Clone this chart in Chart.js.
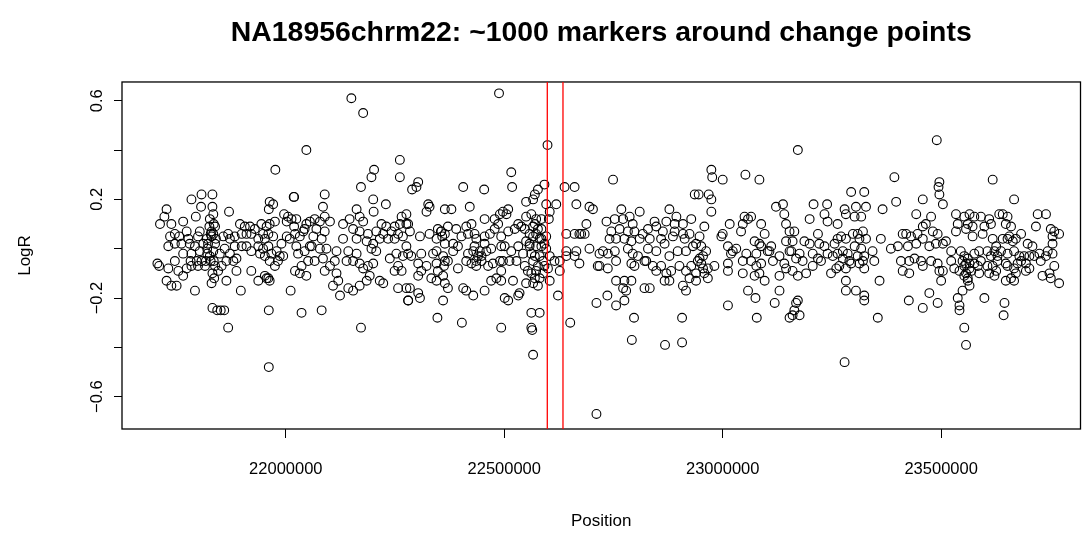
<!DOCTYPE html>
<html>
<head>
<meta charset="utf-8">
<script src="https://cdn.jsdelivr.net/npm/chart.js@4.4.1/dist/chart.umd.min.js"></script>
<style>
html,body{margin:0;padding:0;background:#ffffff;}
#wrap{width:1086px;height:543px;position:relative;}
</style>
</head>
<body>
<div id="wrap"><canvas id="c" width="1086" height="543"></canvas></div>
<script>
const chartTitle = 'NA18956chrm22: ~1000 markers around change points';
const xAxisTitle = 'Position';
const yAxisTitle = 'LogR';
const xTickValues = [22000000, 22500000, 23000000, 23500000];
const xTickLabels = ['22000000', '22500000', '23000000', '23500000'];
const yTickValues = [-0.6, -0.4, -0.2, 0, 0.2, 0.4, 0.6];
const yTickLabels = ['\u22120.6', '', '\u22120.2', '', '0.2', '', '0.6'];
const changePoints = [22598500, 22634400];
const xRange = [21625000, 23819000];
const yRange = [-0.731, 0.676];

// marker positions in kb (x1000 = bp)
const positionKb = [
21807,21832,21784,21806,21832,21727,21722,21765,21794,21834,
21826,21835,21712,21738,21746,21773,21803,21830,21838,21735,
21756,21777,21799,21819,21830,21840,21780,21792,21811,21822,
21838,21731,21746,21761,21765,21784,21803,21820,21834,21706,
21710,21731,21746,21754,21773,21784,21799,21815,21828,21838,
21727,21738,21750,21765,21792,21832,21830,21836,21832,21843,
21825,21828,21834,21820,21826,21835,21817,21807,21796,21782,
22047,21976,22019,22018,21963,21971,21961,21870,21996,22005,
22024,21944,21956,21963,21975,21948,21960,21971,21937,21952,
21895,21906,21918,21929,21899,21910,21921,21868,21857,21872,
21883,22019,22021,22032,22040,22043,22055,22047,21937,21948,
21960,21941,21952,21967,21979,21986,21994,21982,21975,21963,
21860,21883,21872,21887,21864,21880,21849,22024,22028,22043,
22055,22051,22036,22021,22032,22047,21921,21937,21952,21960,
21963,21956,21853,21845,21864,21887,21897,22011,22036,21961,
21868,21851,21859,21961,22013,22002,21921,21910,21899,21990,
22002,22009,
22150,22177,22261,22202,22196,22261,22172,22089,22200,22229,
22085,22162,22201,22089,22265,22066,22078,22101,22131,22146,
22169,22177,22219,22230,22249,22261,22070,22089,22154,22169,
22188,22207,22223,22242,22257,22276,22063,22082,22131,22162,
22185,22200,22215,22234,22249,22268,22059,22078,22093,22116,
22143,22162,22196,22207,22238,22253,22268,22276,22066,22085,
22101,22089,22112,22139,22154,22169,22177,22188,22200,22257,
22249,22265,22116,22120,22108,22124,22143,22154,22169,22185,
22192,22215,22223,22257,22276,22280,22082,22172,
22488,22289,22303,22299,22406,22454,22326,22329,22322,22364,
22379,22421,22276,22280,22284,22348,22356,22364,22371,22390,
22413,22425,22455,22478,22490,22497,22307,22329,22345,22364,
22383,22402,22417,22432,22436,22455,22467,22478,22486,22280,
22287,22310,22337,22345,22360,22371,22383,22394,22417,22429,
22444,22459,22470,22493,22303,22310,22303,22322,22345,22348,
22360,22364,22371,22394,22413,22425,22436,22448,22463,22474,
22490,22493,22284,22280,22303,22307,22333,22345,22360,22406,
22413,22429,22455,22470,22482,22501,22347,22403,22493,22355,
22358,22364,22362,22432,22440,22436,22448,22455,
22599,22516,22518,22592,22577,22570,22566,22550,22638,22661,
22665,22619,22596,22602,22604,22509,22505,22532,22539,22550,
22562,22573,22585,22688,22695,22703,22493,22509,22524,22547,
22558,22566,22573,22581,22566,22570,22585,22642,22661,22672,
22676,22684,22695,22718,22501,22516,22532,22543,22558,22573,
22585,22596,22604,22615,22642,22642,22665,22661,22497,22512,
22528,22547,22566,22577,22562,22573,22589,22600,22604,22627,
22627,22672,22714,22493,22520,22535,22532,22509,22550,22566,
22577,22623,22562,22581,22562,22564,22651,22566,22711,22711,
22550,22558,22562,22570,22581,22589,22592,22596,22577,22585,
22592,22554,22570,22581,
22749,22768,22810,22878,22936,22734,22753,22772,22787,22794,
22844,22848,22871,22894,22909,22890,22928,22745,22764,22783,
22798,22817,22829,22863,22890,22909,22924,22741,22756,22775,
22791,22810,22833,22859,22867,22886,22913,22932,22726,22737,
22753,22783,22794,22806,22829,22848,22878,22897,22916,22718,
22737,22756,22791,22798,22821,22825,22840,22848,22859,22871,
22882,22901,22916,22928,22756,22775,22791,22772,22779,22821,
22833,22867,22878,22909,22916,22924,22736,22756,22775,22797,
22907,22792,22868,22907,
22974,22976,23000,23052,23084,22945,22968,22974,22974,22958,
23016,23000,22997,23050,23058,23065,23046,23042,23088,23096,
23122,23138,23141,23145,22947,23073,23084,23088,23111,23107,
23145,23153,22939,22962,23012,23023,23031,23019,23054,23077,
23103,23130,22943,22951,22955,22966,22981,23012,23012,23046,
23065,23077,23088,23115,23141,23145,22939,22939,22966,23046,
23073,23096,23084,23130,23058,23075,23130,23119,23012,23078,
23153,22951,22955,22947,22958,
23172,23294,23324,23208,23239,23279,23305,23328,23366,23199,
23233,23240,23263,23282,23302,23317,23153,23164,23218,23187,
23199,23221,23233,23256,23271,23282,23298,23309,23321,23313,
23328,23343,23362,23157,23176,23183,23206,23218,23240,23252,
23263,23275,23286,23302,23317,23324,23347,23160,23172,23191,
23206,23225,23248,23260,23267,23282,23294,23313,23324,23359,
23172,23168,23164,23160,23176,23282,23282,23305,23324,23324,
23355,23279,23160,23168,23263,23275,23290,23309,23321,
23490,23393,23496,23494,23496,23504,23458,23397,23443,23477,
23534,23553,23565,23576,23538,23561,23412,23420,23431,23446,
23458,23465,23481,23492,23511,23534,23557,23572,23572,23385,
23401,23424,23443,23458,23473,23488,23504,23523,23545,23553,
23576,23587,23408,23427,23439,23454,23477,23492,23504,23523,
23530,23542,23553,23565,23576,23557,23584,23412,23427,23458,
23496,23500,23561,23565,23549,23538,23542,23542,23553,23557,
23426,23458,23473,23492,23549,23557,23561,23565,23569,23553,
23561,
23618,23667,23721,23740,23717,23751,23759,23770,23755,23755,
23591,23599,23610,23614,23633,23641,23652,23648,23660,23595,
23618,23626,23641,23652,23656,23664,23671,23683,23698,23709,
23725,23744,23740,23755,23606,23614,23622,23629,23637,23652,
23667,23679,23690,23702,23713,23591,23606,23618,23626,23629,
23648,23652,23667,23675,23683,23694,23702,23728,23759,23587,
23610,23622,23648,23660,23671,23694,23732,23748,23751,23770,
23667,23599,23645,23643
];

const logR = [
0.22,0.22,0.20,0.17,0.17,0.16,0.13,0.11,0.13,0.14,
0.12,0.10,0.10,0.10,0.06,0.07,0.07,0.07,0.09,0.05,
0.05,0.04,0.05,0.04,0.05,0.04,0.02,0.01,0.02,0.02,
0.02,0.01,0.02,0.02,-0.02,-0.02,-0.01,-0.02,-0.01,-0.06,
-0.07,-0.08,-0.05,-0.09,-0.08,-0.07,-0.07,-0.07,-0.05,-0.07,
-0.13,-0.15,-0.15,-0.11,-0.17,-0.10,-0.14,-0.12,-0.24,-0.25,
0.09,0.06,0.06,0.00,-0.03,-0.05,-0.05,-0.05,-0.05,-0.05,
0.40,0.32,0.21,0.21,0.19,0.18,0.16,0.15,0.14,0.13,
0.12,0.10,0.09,0.10,0.11,0.06,0.06,0.05,0.04,0.04,
0.10,0.09,0.09,0.08,0.06,0.06,0.06,0.06,0.05,0.04,
0.05,0.09,0.06,0.05,0.07,0.08,0.11,0.10,0.01,0.00,
0.01,-0.02,-0.03,-0.02,-0.01,-0.03,-0.03,-0.05,-0.07,-0.05,
0.00,0.01,-0.02,-0.04,-0.05,-0.05,-0.02,0.01,-0.02,-0.01,
0.01,-0.05,-0.07,-0.09,-0.10,-0.11,-0.09,-0.13,-0.11,-0.12,
-0.13,-0.12,-0.07,-0.09,-0.13,-0.09,-0.17,-0.17,-0.26,-0.25,
-0.32,-0.25,-0.25,-0.48,0.12,0.11,-0.01,0.01,0.01,0.02,
0.05,0.04,
0.61,0.55,0.36,0.32,0.29,0.29,0.25,0.22,0.20,0.18,
0.17,0.16,0.15,0.13,0.13,0.12,0.11,0.11,0.10,0.12,
0.13,0.11,0.10,0.09,0.09,0.10,0.08,0.07,0.08,0.07,
0.06,0.07,0.06,0.07,0.06,0.10,0.05,0.04,0.04,0.04,
0.03,0.02,0.04,0.04,0.04,0.05,0.01,0.00,0.00,-0.01,
-0.01,-0.02,0.00,-0.01,-0.04,-0.02,-0.03,0.01,-0.05,-0.04,
-0.07,-0.09,-0.05,-0.05,-0.05,-0.06,-0.08,-0.07,-0.06,-0.07,
-0.09,-0.09,-0.10,-0.13,-0.15,-0.19,-0.16,-0.17,-0.15,-0.13,
-0.11,-0.13,-0.14,-0.16,-0.16,-0.21,-0.25,-0.32,
0.63,0.24,0.27,0.25,0.25,0.24,0.18,0.17,0.15,0.16,
0.16,0.17,0.14,0.10,0.07,0.08,0.07,0.06,0.09,0.08,
0.09,0.10,0.12,0.12,0.14,0.15,0.05,0.06,0.04,0.02,
0.02,0.05,0.06,0.06,0.04,0.05,0.06,0.08,0.10,-0.02,
-0.03,-0.02,-0.02,-0.01,-0.03,-0.05,-0.01,0.01,-0.02,-0.01,
-0.01,-0.01,0.00,0.01,-0.06,-0.09,-0.11,-0.07,-0.06,-0.09,
-0.11,-0.14,-0.16,-0.08,-0.05,-0.06,-0.07,-0.05,-0.07,-0.06,
-0.05,-0.09,-0.16,-0.21,-0.18,-0.20,-0.12,-0.13,-0.21,-0.16,
-0.17,-0.19,-0.17,-0.13,-0.12,-0.20,-0.28,-0.30,-0.32,0.07,
0.05,-0.05,-0.07,0.01,-0.03,-0.05,-0.03,0.02,
0.42,0.31,0.25,0.26,0.24,0.22,0.20,0.19,0.25,0.25,
0.18,0.18,0.18,0.12,0.15,0.16,0.14,0.10,0.09,0.13,
0.14,0.12,0.12,0.10,0.17,0.16,0.05,0.07,0.08,0.08,
0.06,0.05,0.06,0.04,0.09,0.10,0.08,0.06,0.06,0.06,
0.06,0.06,0.00,-0.02,0.01,-0.01,0.01,-0.02,0.01,0.01,
0.01,0.00,-0.03,-0.05,-0.01,-0.03,-0.01,-0.03,-0.05,-0.05,
-0.05,-0.07,-0.05,-0.07,-0.10,-0.09,-0.10,-0.08,-0.13,-0.05,
-0.09,-0.06,-0.07,-0.13,-0.13,-0.18,-0.19,-0.21,-0.14,-0.14,
-0.15,-0.19,-0.26,-0.26,-0.32,-0.33,-0.30,-0.43,-0.22,-0.67,
0.03,0.02,-0.02,-0.03,-0.03,-0.05,0.02,0.05,0.08,0.04,
-0.07,-0.09,-0.12,-0.12,
0.28,0.16,0.15,0.16,0.22,0.11,0.12,0.12,0.13,0.10,
0.11,0.09,0.11,0.13,0.10,0.10,0.12,0.07,0.08,0.07,
0.07,0.06,0.08,0.07,0.07,0.06,0.06,0.04,0.04,0.04,
0.03,0.04,0.04,0.04,0.02,0.05,0.04,0.01,-0.01,-0.02,
-0.01,0.00,-0.02,-0.03,0.00,-0.01,-0.03,-0.01,-0.01,-0.07,
-0.08,-0.05,-0.06,-0.07,-0.05,-0.05,-0.07,-0.09,-0.07,-0.10,
-0.09,-0.07,-0.09,-0.07,-0.13,-0.13,-0.13,-0.16,-0.17,-0.16,
-0.16,-0.13,-0.13,-0.15,-0.17,-0.12,-0.19,-0.23,-0.21,-0.28,
-0.28,-0.37,-0.39,-0.38,
0.32,0.29,0.28,0.30,0.28,0.22,0.22,0.20,0.15,0.09,
0.10,0.06,0.05,0.13,0.12,0.13,0.10,0.07,0.10,0.06,
0.17,0.18,0.14,0.10,0.05,0.03,0.02,0.01,0.01,-0.01,
0.03,-0.01,0.02,-0.01,0.01,-0.01,0.00,-0.02,-0.02,-0.02,
-0.01,-0.03,-0.05,-0.06,-0.08,-0.08,-0.07,-0.06,-0.09,-0.05,
-0.05,-0.07,-0.06,-0.05,-0.06,-0.08,-0.10,-0.13,-0.12,-0.10,
-0.11,-0.13,-0.10,-0.11,-0.17,-0.20,-0.17,-0.22,-0.23,-0.28,
-0.28,0.01,-0.03,-0.04,-0.10,
0.40,0.23,0.23,0.18,0.18,0.16,0.17,0.17,0.16,0.12,
0.14,0.11,0.10,0.14,0.13,0.13,0.07,0.07,0.06,0.03,
0.02,0.02,0.01,0.02,0.05,0.04,0.06,0.06,0.07,0.04,
0.04,-0.01,0.04,-0.01,-0.02,-0.05,-0.02,-0.04,-0.02,-0.03,
-0.02,-0.01,-0.02,0.01,0.00,-0.03,-0.05,-0.09,-0.11,-0.10,
-0.07,-0.05,-0.10,-0.08,-0.07,-0.08,-0.06,-0.06,-0.08,-0.13,
-0.21,-0.22,-0.25,-0.27,-0.27,-0.13,-0.17,-0.17,-0.19,-0.21,
-0.28,-0.46,0.03,-0.04,0.04,-0.04,-0.05,-0.03,-0.05,
0.44,0.29,0.27,0.25,0.22,0.18,0.20,0.19,0.14,0.13,
0.14,0.13,0.14,0.13,0.10,0.10,0.06,0.06,0.05,0.06,
0.09,0.10,0.07,0.06,0.03,0.07,0.08,0.09,0.05,0.00,
0.01,0.01,0.02,0.04,0.01,0.02,0.02,-0.01,-0.01,-0.03,
-0.02,-0.01,-0.05,-0.05,-0.04,-0.05,-0.05,-0.06,-0.09,-0.05,
-0.08,-0.09,-0.07,-0.06,-0.06,-0.10,-0.07,-0.09,-0.10,-0.07,
-0.09,-0.13,-0.13,-0.15,-0.17,-0.20,-0.23,-0.25,-0.32,-0.39,
-0.21,-0.24,-0.18,-0.22,-0.05,-0.06,-0.04,-0.08,-0.09,-0.11,
-0.12,
0.28,0.20,0.14,0.14,0.09,0.08,0.07,0.06,0.05,0.02,
0.13,0.09,0.12,0.10,0.14,0.14,0.13,0.10,0.09,0.06,
0.04,0.01,0.04,0.04,0.05,0.03,0.04,0.06,0.02,0.01,
-0.02,-0.01,-0.03,-0.02,-0.01,-0.03,-0.01,-0.03,-0.01,-0.02,
-0.01,-0.03,-0.03,-0.03,-0.03,-0.05,-0.07,-0.07,-0.09,-0.05,
-0.06,-0.07,-0.08,-0.06,-0.05,-0.06,-0.08,-0.05,-0.07,-0.10,
-0.10,-0.11,-0.13,-0.12,-0.10,-0.09,-0.11,-0.10,-0.12,-0.14,
-0.13,-0.20,-0.22,-0.27
];

if (positionKb.length !== logR.length) {
  console.error('length mismatch', positionKb.length, logR.length);
}
const nPts = Math.min(positionKb.length, logR.length);
const markerPoints = [];
for (let i = 0; i < nPts; i++) {
  markerPoints.push({ x: positionKb[i] * 1000, y: logR[i] });
}

const FONT = "'Liberation Sans', Arial, Helvetica, sans-serif";
Chart.defaults.font.family = FONT;
Chart.defaults.color = '#000000';

// centre the title over the plotting region, as R does
const titleOverPlot = {
  id: 'titleOverPlot',
  afterLayout(chart) {
    const tb = chart.titleBlock;
    const a = chart.chartArea;
    if (tb && a) {
      tb.left = a.left;
      tb.right = a.right;
      tb.width = a.right - a.left;
    }
  }
};

const framePlugin = {
  id: 'framePlugin',
  afterDatasetsDraw(chart) {
    const ctx = chart.ctx;
    const a = chart.chartArea;
    const xs = chart.scales.x;
    ctx.save();
    ctx.strokeStyle = '#000000';
    ctx.lineWidth = 1.3;
    ctx.strokeRect(a.left, a.top, a.right - a.left, a.bottom - a.top);
    ctx.globalAlpha = 1;
    ctx.strokeStyle = 'rgb(255,0,0)';
    ctx.lineWidth = 1.3;
    changePoints.forEach(function (v) {
      const px = xs.getPixelForValue(v);
      ctx.beginPath();
      ctx.moveTo(px, a.top);
      ctx.lineTo(px, a.bottom);
      ctx.stroke();
    });
    ctx.restore();
  }
};

new Chart(document.getElementById('c'), {
  type: 'scatter',
  data: {
    datasets: [{
      label: 'LogR',
      data: markerPoints,
      pointStyle: 'circle',
      pointRadius: 4.4,
      pointHoverRadius: 4.4,
      pointBorderWidth: 1.1,
      borderColor: '#000000',
      backgroundColor: 'rgba(0,0,0,0)',
      showLine: false
    }]
  },
  options: {
    responsive: false,
    devicePixelRatio: 1,
    animation: false,
    events: [],
    layout: { padding: { left: 0, right: 5, top: 0, bottom: 0 } },
    plugins: {
      legend: { display: false },
      tooltip: { enabled: false },
      title: {
        display: true,
        text: chartTitle,
        color: '#000000',
        font: { family: FONT, size: 28.4, weight: 'bold', lineHeight: 1.2 },
        padding: { top: 16, bottom: 31.9 }
      }
    },
    scales: {
      x: {
        type: 'linear',
        min: xRange[0],
        max: xRange[1],
        afterBuildTicks: function (s) { s.ticks = xTickValues.map(function (v) { return { value: v }; }); },
        afterFit: function (s) { s.height = 114; },
        ticks: {
          autoSkip: false,
          maxRotation: 0,
          minRotation: 0,
          padding: 22,
          color: '#000000',
          font: { family: FONT, size: 16.5 },
          callback: function (v) { const i = xTickValues.indexOf(v); return i >= 0 ? xTickLabels[i] : ''; }
        },
        grid: { drawOnChartArea: false, drawTicks: true, tickLength: 9, color: '#000000', lineWidth: 1 },
        border: { display: false },
        title: {
          display: true,
          text: xAxisTitle,
          color: '#000000',
          font: { family: FONT, size: 17, lineHeight: 1.2 },
          padding: { top: 0, bottom: 11.8 }
        }
      },
      y: {
        type: 'linear',
        min: yRange[0],
        max: yRange[1],
        afterBuildTicks: function (s) { s.ticks = yTickValues.map(function (v) { return { value: v }; }); },
        afterFit: function (s) { s.width = 122; },
        ticks: {
          autoSkip: false,
          minRotation: 90,
          maxRotation: 90,
          crossAlign: 'center',
          padding: 0,
          color: '#000000',
          font: { family: FONT, size: 16.5 },
          callback: function (v) {
            for (let i = 0; i < yTickValues.length; i++) {
              if (Math.abs(yTickValues[i] - v) < 1e-9) return yTickLabels[i];
            }
            return '';
          }
        },
        grid: { drawOnChartArea: false, drawTicks: true, tickLength: 8, color: '#000000', lineWidth: 1 },
        border: { display: false },
        title: {
          display: true,
          text: yAxisTitle,
          color: '#000000',
          font: { family: FONT, size: 17, lineHeight: 1.2 },
          padding: { top: 14.8, bottom: 0 }
        }
      }
    }
  },
  plugins: [titleOverPlot, framePlugin]
});
</script>
</body>
</html>
